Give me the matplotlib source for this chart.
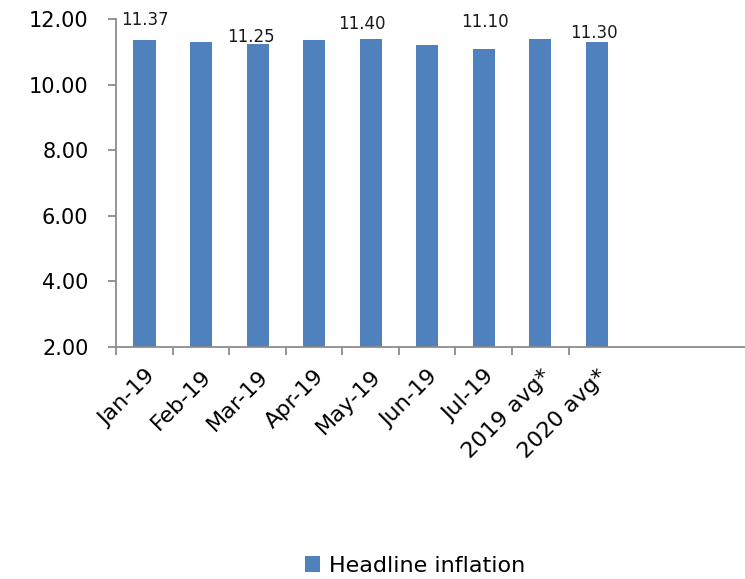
import matplotlib
matplotlib.use("Agg")
import matplotlib.pyplot as plt
import numpy as np

categories = ["Jan-19", "Feb-19", "Mar-19", "Apr-19", "May-19", "Jun-19", "Jul-19",
              "2019 avg*", "2020 avg*"]
headline = [11.37, 11.31, 11.25, 11.37, 11.40, 11.21, 11.10, 11.40, 11.30]
# only some bars carry a value label in the original
labelled = {0: "11.37", 2: "11.25", 4: "11.40", 6: "11.10", 8: "11.30"}
# manual label offsets (pixels) as placed in the source chart
label_offsets = {0: (0, 20), 2: (-7, 7), 4: (-9, 15), 6: (1, 27), 8: (-3, 9)}

plt.rcParams["font.family"] = ["DejaVu Sans"]
bar_color = "#4F81BD"
axis_color = "#8c8c8c"

fig = plt.figure(figsize=(7.45, 5.79), dpi=100)
ax = fig.add_axes([0.156, 0.401, 0.844, 0.566])

x = np.arange(len(categories))
bars = ax.bar(x, headline, width=0.39, color=bar_color, label="Headline inflation", zorder=2)

for i, text in labelled.items():
    dx, dy = label_offsets[i]
    ax.annotate(text, (x[i], headline[i]), xytext=(dx, dy), textcoords="offset pixels",
                ha="center", va="center", fontsize=12, color="#1a1a1a")

ax.set_ylim(2, 12)
ax.set_yticks(np.arange(2, 12.01, 2))
ax.set_yticklabels([f"{v:.2f}" for v in np.arange(2, 12.01, 2)], fontsize=15)
ax.set_xlim(-0.48, 10.62)

ax.set_xticks(x)
ax.set_xticklabels(categories, rotation=45, ha="right", rotation_mode="anchor", fontsize=16)
ax.set_xticks(np.arange(-0.5, len(categories) - 1, 1.0), minor=True)
ax.tick_params(axis="x", which="major", length=0, pad=14)
ax.tick_params(axis="x", which="minor", length=6, color=axis_color, width=1.3)
ax.tick_params(axis="y", length=6, color=axis_color, width=1.3, pad=14)

for side in ["top", "right"]:
    ax.spines[side].set_visible(False)
for side in ["left", "bottom"]:
    ax.spines[side].set_color(axis_color)
    ax.spines[side].set_linewidth(1.3)
ax.spines["left"].set_bounds(2, 12)

fig.legend(handles=[bars], loc="center", bbox_to_anchor=(415 / 745, 1 - 566 / 579),
           frameon=False, fontsize=16, handlelength=0.7, handleheight=0.7, handletextpad=0.4)

fig.savefig("out.png", dpi=100)
plt.close(fig)
